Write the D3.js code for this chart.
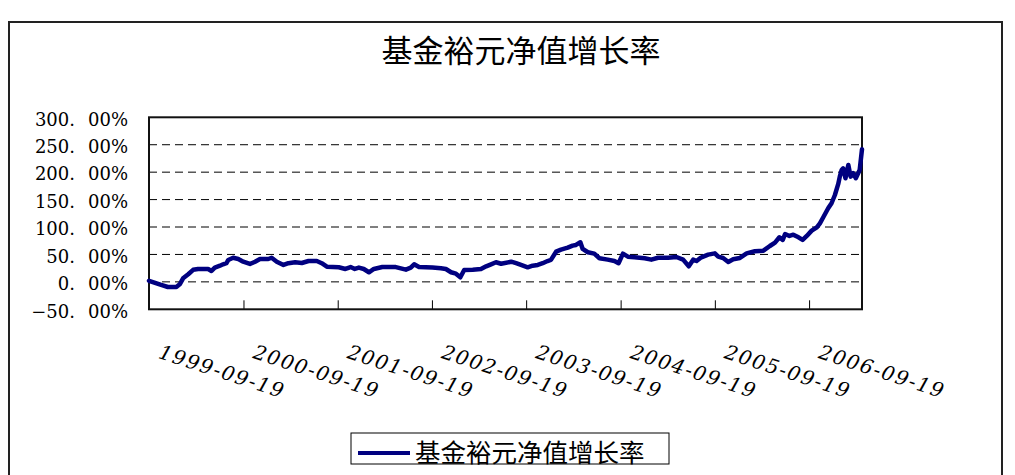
<!DOCTYPE html>
<html>
<head>
<meta charset="utf-8">
<script src="https://cdn.jsdelivr.net/npm/d3@7"></script>
<style>
  html, body { margin: 0; padding: 0; background: #fff; }
  svg { display: block; }
</style>
</head>
<body>
<svg id="chart" width="1015" height="475"></svg>
<script>
// ---------------- data ----------------
const chartTitle = "基金裕元净值增长率";
const seriesName = "基金裕元净值增长率";

const dates = [
  "1999-09-19","1999-11-05","1999-12-01","2000-01-03","2000-01-16","2000-01-29","2000-02-18","2000-03-08",
  "2000-03-27","2000-05-05","2000-05-18","2000-05-31","2000-06-20","2000-07-02","2000-07-15","2000-07-22",
  "2000-08-10","2000-08-30","2000-09-18","2000-10-14","2000-11-03","2000-11-22","2000-12-24","2001-01-06",
  "2001-01-26","2001-02-21","2001-03-12","2001-04-07","2001-05-03","2001-05-29","2001-06-30","2001-07-19",
  "2001-08-08","2001-09-23","2001-10-19","2001-11-08","2001-11-24","2001-12-10","2001-12-29","2002-01-18",
  "2002-02-06","2002-03-11","2002-05-02","2002-06-10","2002-06-29","2002-07-12","2002-07-31","2002-09-21",
  "2002-10-24","2002-11-12","2002-12-02","2002-12-21","2003-01-07","2003-01-22","2003-02-24","2003-03-28",
  "2003-04-17","2003-05-06","2003-05-25","2003-06-14","2003-07-23","2003-08-11","2003-08-30","2003-09-25",
  "2003-10-14","2003-11-03","2003-11-22","2003-12-11","2003-12-24","2004-01-13","2004-02-01","2004-02-27",
  "2004-03-17","2004-03-30","2004-04-16","2004-04-25","2004-05-15","2004-06-09","2004-06-29","2004-07-31",
  "2004-08-26","2004-09-11","2004-09-28","2004-10-17","2004-11-12","2004-12-21","2005-01-16","2005-02-11",
  "2005-03-22","2005-04-23","2005-05-19","2005-06-10","2005-06-27","2005-07-10","2005-07-26","2005-08-05",
  "2005-08-24","2005-09-19","2005-10-02","2005-10-21","2005-11-10","2005-11-29","2005-12-25","2006-01-20",
  "2006-02-21","2006-03-26","2006-04-20","2006-05-10","2006-05-27","2006-06-09","2006-06-18","2006-07-05",
  "2006-07-20","2006-08-09","2006-08-25","2006-09-10","2006-09-29","2006-10-19","2006-10-31","2006-11-13",
  "2006-12-02","2006-12-15","2006-12-28","2007-01-10","2007-01-16","2007-01-23","2007-01-29","2007-02-07",
  "2007-02-18","2007-02-27","2007-03-09","2007-03-19","2007-04-03","2007-04-12"
];

const growthPct = [
  2, -5.6, -9.3, -9.3, -4.4, 6.5, 13.9, 22,
  23.5, 23.5, 19.9, 26, 29.5, 32, 34, 40,
  44, 41.7, 36.8, 32.6, 36.8, 41.7, 41.7, 44,
  36.8, 30.8, 34, 35.7, 34.4, 38, 38, 34,
  27.7, 26.6, 23.5, 27, 23.5, 26, 23.5, 17.5,
  23.5, 27, 27, 22.3, 26, 32, 27, 26,
  24.8, 23.5, 17.5, 15, 8.4, 21.7, 22.3, 23.5,
  28.4, 32, 35.7, 33, 36.8, 34, 30.8, 26.6,
  29.5, 30.8, 34, 38, 40, 55, 58.7, 62.3,
  66, 67.3, 72.2, 60, 54, 51.4, 43, 40.5,
  38, 34, 51.4, 46, 44.8, 43, 40.5, 44,
  44, 45.4, 40.5, 28.4, 40.5, 38, 44, 46,
  49.6, 52, 46, 43.6, 36.3, 41.2, 43.6, 52,
  55.8, 56.9, 65.4, 71.5, 81.3, 76.4, 87.3, 83.7,
  86, 81.3, 76.4, 83.7, 93.4, 99.5, 106.8, 117.8,
  134.2, 143.3, 158.4, 178.5, 191.8, 204, 207, 188.9,
  213, 191.8, 198, 189, 204, 241.7
];

const yTicks = [-50, 0, 50, 100, 150, 200, 250, 300];
const yGridTicks = [0, 50, 100, 150, 200, 250];
const xTickLabels = ["1999-09-19","2000-09-19","2001-09-19","2002-09-19","2003-09-19","2004-09-19","2005-09-19","2006-09-19"];

// ---------------- layout ----------------
const svg = d3.select("#chart");
const parse = d3.timeParse("%Y-%m-%d");
const data = dates.map((d, i) => ({ date: parse(d), value: growthPct[i] }));

const plot = { left: 149, right: 862, top: 117.3, bottom: 309.3 };

const x = d3.scaleTime()
  .domain(d3.extent(data, d => d.date))
  .range([plot.left, plot.right]);

const y = d3.scaleLinear()
  .domain([-50, 300])
  .range([plot.bottom, plot.top]);

// outer chart border
svg.append("rect")
  .attr("x", 9).attr("y", 22)
  .attr("width", 993).attr("height", 470)
  .attr("fill", "none")
  .attr("stroke", "#222")
  .attr("stroke-width", 2);

// title
svg.append("text")
  .attr("x", 521).attr("y", 48)
  .attr("text-anchor", "middle")
  .attr("dominant-baseline", "central")
  .attr("font-family", "'Noto Sans CJK SC', sans-serif")
  .attr("font-size", 31)
  .attr("fill", "#000")
  .text(chartTitle);

// gridlines
svg.append("g")
  .selectAll("line")
  .data(yGridTicks)
  .join("line")
  .attr("x1", plot.left).attr("x2", plot.right)
  .attr("y1", d => y(d)).attr("y2", d => y(d))
  .attr("stroke", "#000")
  .attr("stroke-width", 1)
  .attr("stroke-dasharray", "8,5");

// y axis labels
const yAxis = svg.append("g")
  .attr("transform", `translate(${plot.left},0)`)
  .call(d3.axisLeft(y).tickValues(yTicks).tickSize(0).tickPadding(21).tickFormat(d => d.toFixed(2) + "%"));
yAxis.select(".domain").remove();
yAxis.selectAll("text").each(function(d) {
  const t = d3.select(this);
  const s = d.toFixed(2).replace("-", "\u2212");
  const parts = s.split(".");
  t.text(null)
    .attr("font-family", "'DejaVu Serif', serif")
    .attr("font-size", 18)
    .attr("fill", "#000")
    .attr("dy", "0.32em")
    .attr("y", 2);
  t.append("tspan").text(parts[0] + ".");
  t.append("tspan").attr("dx", 13).text(parts[1] + "%");
});

// x axis (ticks inside, rotated labels)
const tickDates = xTickLabels.map(parse);
const xAxis = svg.append("g")
  .attr("transform", `translate(0,${plot.bottom})`)
  .call(d3.axisBottom(x).tickValues(tickDates).tickSize(-9).tickFormat(d3.timeFormat("%Y-%m-%d")));
xAxis.select(".domain").remove();
xAxis.selectAll(".tick line").attr("stroke", "#000").attr("stroke-width", 1);
xAxis.selectAll("text")
  .attr("x", 0).attr("y", 0).attr("dy", 0)
  .attr("text-anchor", "start")
  .attr("transform", "translate(8,48.5) rotate(18)")
  .attr("font-family", "'DejaVu Serif', serif")
  .attr("font-style", "italic")
  .attr("font-size", 20)
  .attr("letter-spacing", 1.6)
  .attr("fill", "#000");

// plot area border
svg.append("rect")
  .attr("x", plot.left).attr("y", plot.top)
  .attr("width", plot.right - plot.left)
  .attr("height", plot.bottom - plot.top)
  .attr("fill", "none")
  .attr("stroke", "#111")
  .attr("stroke-width", 2);

// line
const line = d3.line()
  .x(d => x(d.date))
  .y(d => y(d.value));

svg.append("path")
  .datum(data)
  .attr("d", line)
  .attr("fill", "none")
  .attr("stroke", "#000080")
  .attr("stroke-width", 4.5)
  .attr("stroke-linejoin", "round")
  .attr("stroke-linecap", "round");

// legend
const lg = svg.append("g");
lg.append("rect")
  .attr("x", 351).attr("y", 433)
  .attr("width", 318).attr("height", 31)
  .attr("fill", "#fff")
  .attr("stroke", "#000")
  .attr("stroke-width", 1);
lg.append("line")
  .attr("x1", 358).attr("x2", 410)
  .attr("y1", 453).attr("y2", 453)
  .attr("stroke", "#000080")
  .attr("stroke-width", 4);
lg.append("text")
  .attr("x", 415).attr("y", 450)
  .attr("dominant-baseline", "central")
  .attr("font-family", "'Noto Sans CJK SC', sans-serif")
  .attr("font-size", 25.5)
  .attr("fill", "#000")
  .text(seriesName);
</script>
</body>
</html>
